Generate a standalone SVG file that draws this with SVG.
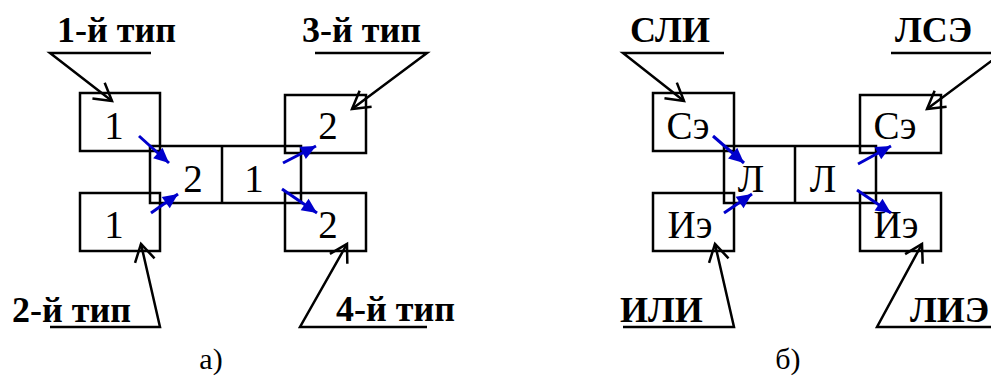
<svg xmlns="http://www.w3.org/2000/svg" width="991" height="378" viewBox="0 0 991 378">
<defs>
<marker id="vhead" markerUnits="userSpaceOnUse" markerWidth="30" markerHeight="30" viewBox="-20 -15 25 30" refX="0" refY="0" orient="auto">
<path d="M -17 -10 L 0 0 L -17 10" fill="none" stroke="#000" stroke-width="2.5"/>
</marker>
<marker id="bhead" markerUnits="userSpaceOnUse" markerWidth="20" markerHeight="20" viewBox="-16 -10 20 20" refX="0" refY="0" orient="auto">
<path d="M -15 -7 L 0 0 L -15 7 Z" fill="#0000cc"/>
</marker>
</defs>
<style>
.box{fill:none;stroke:#000;stroke-width:2.5}
.lead{fill:none;stroke:#000;stroke-width:2.5;marker-end:url(#vhead)}
.blue{fill:none;stroke:#0000cc;stroke-width:3;marker-end:url(#bhead)}
text{font-family:"Liberation Serif","Times New Roman",Tinos,"DejaVu Serif",serif;fill:#000}
.lbl{font-weight:bold;font-size:36px}
.t{font-size:39px;text-anchor:middle}
.cap{font-size:30px;text-anchor:middle}
</style>
<g id="diagram-a">
<g id="a-tl"><rect class="box" x="80" y="93" width="80" height="58"/><text class="t" x="114" y="139">1</text></g>
<g id="a-center"><rect class="box" x="150" y="146" width="151" height="57"/><line class="box" x1="222" y1="146" x2="222" y2="203"/><text class="t" x="193" y="192">2</text><text class="t" x="254" y="192">1</text></g>
<g id="a-tr"><rect class="box" x="285" y="95" width="81" height="58"/><text class="t" x="328" y="139">2</text></g>
<g id="a-bl"><rect class="box" x="80" y="193" width="80" height="58"/><text class="t" x="114" y="238">1</text></g>
<g id="a-br"><rect class="box" x="285" y="193" width="81" height="58"/><text class="t" x="328" y="238">2</text></g>
<g id="a-labels">
<text class="lbl" x="57" y="42">1-й тип</text>
<text class="lbl" x="302" y="42">3-й тип</text>
<text class="lbl" x="12" y="322">2-й тип</text>
<text class="lbl" x="336" y="321">4-й тип</text>
<text class="cap" x="211" y="369">а)</text>
</g>
</g>
<g id="diagram-b">
<g id="b-tl"><rect class="box" x="653" y="93" width="81" height="58"/><text class="t" x="688" y="139">Сэ</text></g>
<g id="b-center"><rect class="box" x="724" y="146" width="152" height="57"/><line class="box" x1="795" y1="146" x2="795" y2="203"/><text class="t" x="751" y="192">Л</text><text class="t" x="823" y="192">Л</text></g>
<g id="b-tr"><rect class="box" x="860" y="95" width="81" height="58"/><text class="t" x="895" y="139">Сэ</text></g>
<g id="b-bl"><rect class="box" x="653" y="193" width="81" height="58"/><text class="t" x="690" y="238">Иэ</text></g>
<g id="b-br"><rect class="box" x="860" y="193" width="81" height="58"/><text class="t" x="896" y="238">Иэ</text></g>
<g id="b-labels">
<text class="lbl" x="630" y="42">СЛИ</text>
<text class="lbl" x="895" y="42">ЛСЭ</text>
<text class="lbl" x="620" y="322">ИЛИ</text>
<text class="lbl" x="910" y="322">ЛИЭ</text>
<text class="cap" x="788" y="369">б)</text>
</g>
</g>
<g id="connectors">
<polyline class="lead" points="151,53 50,53 112,101"/>
<polyline class="lead" points="315,53 427,53 352,109"/>
<polyline class="lead" points="50,327 160,327 141,244"/>
<polyline class="lead" points="427,327 300,327 347,244"/>
<polyline class="lead" points="724,53 623,53 684,101"/>
<polyline class="lead" points="891,53 1002,53 927,109"/>
<polyline class="lead" points="623,327 734,327 715,244"/>
<polyline class="lead" points="1000,327 877,327 922,244"/>
<line class="blue" x1="139" y1="136" x2="169" y2="163"/>
<line class="blue" x1="151" y1="213" x2="178" y2="194"/>
<line class="blue" x1="283" y1="163" x2="316" y2="146"/>
<line class="blue" x1="282" y1="189" x2="317" y2="213"/>
<line class="blue" x1="713" y1="136" x2="744" y2="163"/>
<line class="blue" x1="724" y1="213" x2="752" y2="194"/>
<line class="blue" x1="858" y1="164" x2="891" y2="146"/>
<line class="blue" x1="857" y1="190" x2="891" y2="213"/>
</g>
</svg>
